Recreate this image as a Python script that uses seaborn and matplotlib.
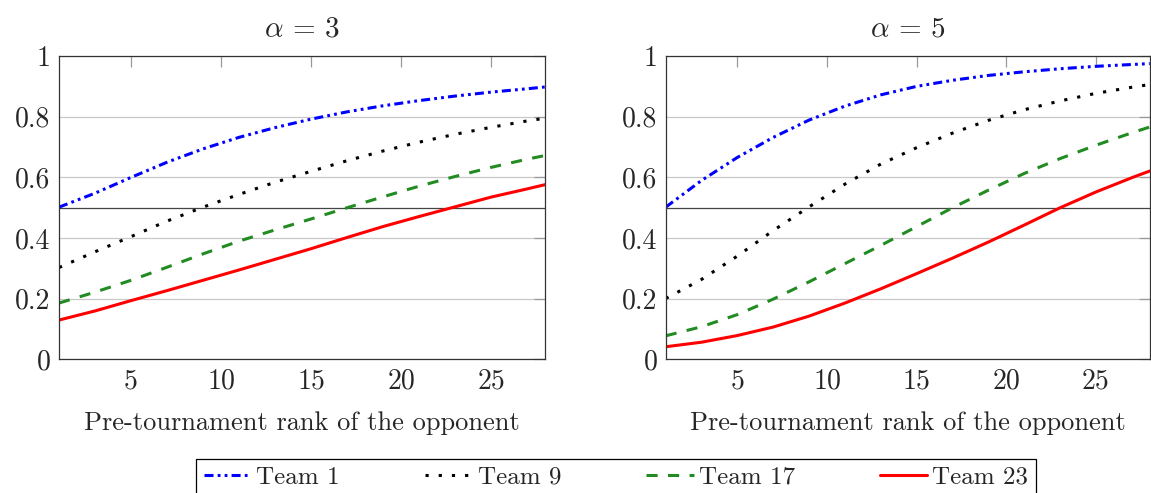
import matplotlib
matplotlib.use("Agg")
import pandas as pd
import matplotlib.pyplot as plt
import seaborn as sns

# Pre-tournament rank of the opponent (x values)
rank = [1, 3, 5, 7, 9, 11, 13, 15, 17, 19, 21, 23, 25, 27, 28]

# alpha = 3
team1_a3 = [0.502, 0.548, 0.600, 0.650, 0.694, 0.732, 0.764, 0.792, 0.816, 0.836, 0.853, 0.868, 0.881, 0.892, 0.898]
team9_a3 = [0.303, 0.355, 0.405, 0.456, 0.502, 0.544, 0.584, 0.620, 0.655, 0.687, 0.716, 0.742, 0.765, 0.786, 0.795]
team17_a3 = [0.186, 0.222, 0.261, 0.304, 0.348, 0.390, 0.427, 0.463, 0.500, 0.536, 0.571, 0.603, 0.633, 0.660, 0.672]
team23_a3 = [0.130, 0.160, 0.194, 0.227, 0.261, 0.295, 0.330, 0.365, 0.402, 0.438, 0.471, 0.503, 0.535, 0.562, 0.576]

# alpha = 5
team1_a5 = [0.502, 0.590, 0.666, 0.732, 0.789, 0.835, 0.872, 0.900, 0.920, 0.936, 0.948, 0.958, 0.966, 0.972, 0.975]
team9_a5 = [0.201, 0.264, 0.341, 0.425, 0.503, 0.578, 0.644, 0.698, 0.746, 0.788, 0.823, 0.852, 0.877, 0.897, 0.906]
team17_a5 = [0.078, 0.108, 0.148, 0.199, 0.256, 0.316, 0.376, 0.438, 0.500, 0.558, 0.613, 0.662, 0.706, 0.747, 0.766]
team23_a5 = [0.042, 0.057, 0.079, 0.107, 0.143, 0.186, 0.233, 0.283, 0.334, 0.387, 0.443, 0.500, 0.552, 0.599, 0.621]

teams = ["Team 1", "Team 9", "Team 17", "Team 23"]
panels = {
    3: [team1_a3, team9_a3, team17_a3, team23_a3],
    5: [team1_a5, team9_a5, team17_a5, team23_a5],
}

# line styles (dash lengths in points)
styles = {
    "Team 1": dict(color="blue", linestyle=(0, (6.5, 3, 2, 3, 2, 3))),
    "Team 9": dict(color="black", linestyle=(0, (2.3, 7.2))),
    "Team 17": dict(color="#228B22", linestyle=(0, (8, 7.5))),
    "Team 23": dict(color="red", linestyle="-"),
}

sns.set_style("white")
plt.rcParams["font.family"] = "cmr10"
plt.rcParams["mathtext.fontset"] = "cm"
plt.rcParams["axes.formatter.use_mathtext"] = True
plt.rcParams["lines.scale_dashes"] = False

fig = plt.figure(figsize=(11.51, 4.93), dpi=100)
ax1 = fig.add_axes([0.0513, 0.2708, 0.4222, 0.6156])
ax2 = fig.add_axes([0.5784, 0.2708, 0.4205, 0.6156])

for ax, alpha in [(ax1, 3), (ax2, 5)]:
    df = pd.DataFrame({"rank": rank})
    for name, vals in zip(teams, panels[alpha]):
        df[name] = vals
    long_df = df.melt(id_vars="rank", var_name="team", value_name="p")

    for name in teams:
        sns.lineplot(data=long_df[long_df["team"] == name], x="rank", y="p",
                     ax=ax, label=name, linewidth=2.2, **styles[name])

    ax.axhline(0.5, color="#444444", linewidth=0.9, zorder=1)
    ax.set_xlim(1, 28)
    ax.set_ylim(0, 1)
    ax.set_xticks([5, 10, 15, 20, 25])
    ax.set_xticklabels(["5", "10", "15", "20", "25"])
    ax.set_yticks([0, 0.2, 0.4, 0.6, 0.8, 1])
    ax.set_yticklabels(["0", "0.2", "0.4", "0.6", "0.8", "1"])
    ax.grid(axis="y", color="#c8c8c8", linewidth=0.9)
    ax.tick_params(direction="in", length=8, color="#999999", width=0.9,
                   top=True, right=True, labelsize=20, pad=6)
    for s in ax.spines.values():
        s.set_color("#333333")
        s.set_linewidth(0.9)
    ax.set_title(r"$\alpha\,=\,%d$" % alpha, fontsize=21, pad=14)
    ax.set_xlabel("Pre-tournament rank of the opponent", fontsize=19, labelpad=12)
    ax.set_ylabel("")
    ax.get_legend().remove()

handles = [l for l in ax1.get_lines() if l.get_label() in teams]
leg = fig.legend(handles=handles, labels=teams, loc="upper center",
                 bbox_to_anchor=(0.5352, 0.069), ncol=4, fontsize=18,
                 frameon=True, fancybox=False, framealpha=1, edgecolor="black",
                 handlelength=1.9, handletextpad=0.2, columnspacing=3.4,
                 borderaxespad=0, borderpad=0.3)
leg.get_frame().set_linewidth(0.9)

fig.savefig("out.png", dpi=100)
